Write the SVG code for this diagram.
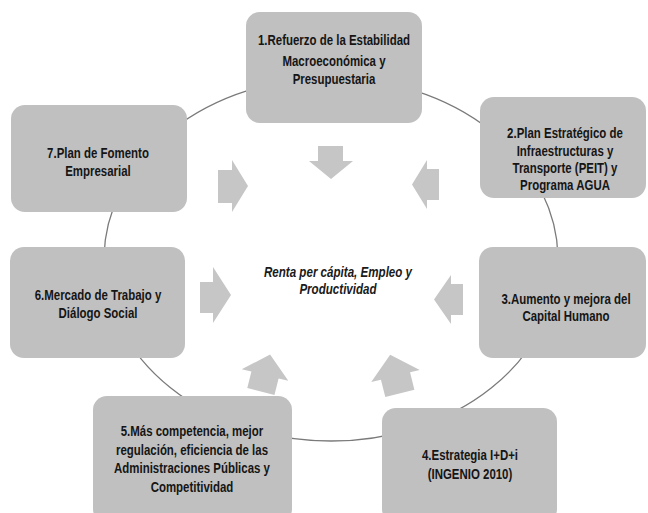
<svg xmlns="http://www.w3.org/2000/svg" width="648" height="513" viewBox="0 0 648 513">
<style>
.box{fill:#c0c0c0;}
.t{font-family:"Liberation Sans",Arial,sans-serif;font-weight:bold;font-size:13.8px;fill:#151515;text-anchor:middle;}
.c{font-family:"Liberation Sans",Arial,sans-serif;font-style:italic;font-weight:bold;font-size:13.8px;fill:#1a1a1a;text-anchor:middle;}
.arr{fill:#c6c6c6;}
</style>
<rect width="648" height="513" fill="#ffffff"/>
<g id="connectors">
<ellipse cx="331" cy="259.5" rx="227" ry="181.5" fill="none" stroke="#7a7a7a" stroke-width="1.3"/>
<polygon class="arr" points="318,146 343,146 343,161 353,161 331,179 309,161 318,161"/>
<polygon class="arr" points="218,170 232,170 232,160 248,186 232,212 232,203 218,203"/>
<polygon class="arr" points="439,169 427,169 427,160 412,184.5 427,209 427,200 439,200"/>
<polygon class="arr" points="200,282 213,282 213,267 231,295 213,323 213,313 200,313"/>
<polygon class="arr" points="463,284 451,284 451,275 434,299.5 451,324 451,315 463,315"/>
<path class="arr" transform="translate(265,375) rotate(14)" d="M0,-21 L24,0 L14,0 L14,17 L-14,17 L-14,0 L-24,0 Z"/>
<path class="arr" transform="translate(395.5,376) rotate(-14)" d="M0,-22 L25,0 L15,0 L15,18 L-15,18 L-15,0 L-25,0 Z"/>
</g>
<g id="node1">
<rect class="box" x="246" y="12" width="176" height="111" rx="14"/>
<g transform="translate(334,0) scale(0.83,1)">
<text class="t" x="0" y="45">1.Refuerzo de la Estabilidad</text>
<text class="t" x="0" y="66">Macroeconómica y</text>
<text class="t" x="0" y="84">Presupuestaria</text>
</g>
</g>
<g id="node2">
<rect class="box" x="480" y="97" width="166" height="101" rx="14"/>
<g transform="translate(565,0) scale(0.83,1)">
<text class="t" x="0" y="138">2.Plan Estratégico de</text>
<text class="t" x="0" y="156">Infraestructuras y</text>
<text class="t" x="0" y="173">Transporte (PEIT) y</text>
<text class="t" x="0" y="190">Programa AGUA</text>
</g>
</g>
<g id="node3">
<rect class="box" x="479" y="247" width="167" height="111" rx="14"/>
<g transform="translate(566,0) scale(0.83,1)">
<text class="t" x="0" y="304">3.Aumento y mejora del</text>
<text class="t" x="0" y="321">Capital Humano</text>
</g>
</g>
<g id="node4">
<rect class="box" x="382" y="408" width="175" height="115" rx="14"/>
<g transform="translate(470,0) scale(0.83,1)">
<text class="t" x="0" y="460">4.Estrategia I+D+i</text>
<text class="t" x="0" y="479">(INGENIO 2010)</text>
</g>
</g>
<g id="node5">
<rect class="box" x="93" y="396" width="199" height="127" rx="14"/>
<g transform="translate(192,0) scale(0.83,1)">
<text class="t" x="0" y="436">5.Más competencia, mejor</text>
<text class="t" x="0" y="455">regulación, eficiencia de las</text>
<text class="t" x="0" y="473">Administraciones Públicas y</text>
<text class="t" x="0" y="492">Competitividad</text>
</g>
</g>
<g id="node6">
<rect class="box" x="10" y="247" width="175" height="111" rx="14"/>
<g transform="translate(98,0) scale(0.83,1)">
<text class="t" x="0" y="300">6.Mercado de Trabajo y</text>
<text class="t" x="0" y="318">Diálogo Social</text>
</g>
</g>
<g id="node7">
<rect class="box" x="11" y="105" width="176" height="107" rx="14"/>
<g transform="translate(98,0) scale(0.83,1)">
<text class="t" x="0" y="158">7.Plan de Fomento</text>
<text class="t" x="0" y="176">Empresarial</text>
</g>
</g>
<g id="center">
<g transform="translate(338,0) scale(0.84,1)">
<text class="c" x="0" y="277">Renta per cápita, Empleo y</text>
<text class="c" x="0" y="294">Productividad</text>
</g>
</g>
</svg>
